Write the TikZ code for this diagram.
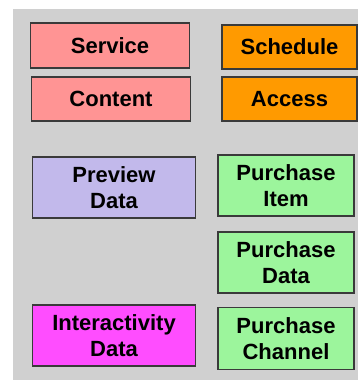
\documentclass[tikz,border=0pt]{standalone}
\usepackage{fontspec}
\setmainfont{Liberation Sans}
\definecolor{panelgray}{HTML}{D0D0D0}
\definecolor{edgegray}{HTML}{3A3A3A}
\definecolor{pinkfill}{HTML}{FF9494}
\definecolor{orangefill}{HTML}{FF9A00}
\definecolor{lavfill}{HTML}{C2B9EB}
\definecolor{greenfill}{HTML}{9CF59C}
\definecolor{magfill}{HTML}{FF4DFF}
\begin{document}
\begin{tikzpicture}[x=1pt,y=-1pt,
  cell/.style={draw=edgegray, line width=1.8pt, rectangle, inner sep=0pt,
    align=center, font=\fontsize{22}{25.5}\selectfont\bfseries},
  pinkcell/.style={cell, fill=pinkfill},
  orangecell/.style={cell, fill=orangefill},
  lavcell/.style={cell, fill=lavfill},
  greencell/.style={cell, fill=greenfill},
  magcell/.style={cell, fill=magfill}]
\useasboundingbox (0,0) rectangle (358,380);
\fill[white] (0,0) rectangle (358,380);
\fill[panelgray] (13,9) rectangle (358,380);

\node[pinkcell, minimum width=159pt, minimum height=45pt] (service) at (110,45.5) {Service};
\node[pinkcell, minimum width=159pt, minimum height=44pt] (content) at (111,99) {Content};
\node[orangecell, minimum width=135pt, minimum height=44pt] (schedule) at (289.5,47) {Schedule};
\node[orangecell, minimum width=135pt, minimum height=44pt] (access) at (289.5,99) {Access};

\node[lavcell, minimum width=163pt, minimum height=61pt] (preview) at (114,187.5) {Preview\\Data};
\node[greencell, minimum width=136pt, minimum height=61pt] (pitem) at (286,185.5) {Purchase\\Item};
\node[greencell, minimum width=136pt, minimum height=61pt] (pdata) at (286,262.5) {Purchase\\Data};
\node[magcell, minimum width=163pt, minimum height=61pt] (interact) at (114,335.5) {Interactivity\\Data};
\node[greencell, minimum width=136pt, minimum height=62pt] (pchannel) at (286,338.5) {Purchase\\Channel};
\end{tikzpicture}
\end{document}
